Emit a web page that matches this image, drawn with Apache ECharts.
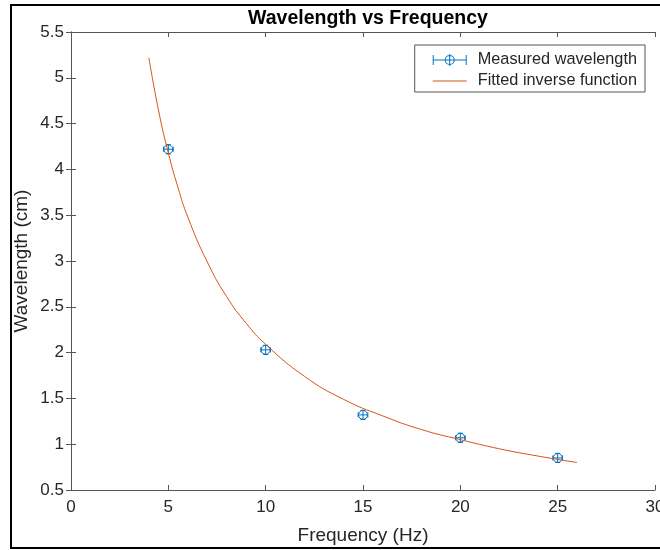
<!DOCTYPE html>
<html>
<head>
<meta charset="utf-8">
<script src="https://cdn.jsdelivr.net/npm/echarts@6/dist/echarts.min.js"></script>
<style>html,body{margin:0;padding:0;background:#fff}#c{width:660px;height:550px}</style>
</head>
<body>
<div id="c"></div>
<script>
// Measured data
var frequency = [5, 10, 15, 20, 25];
var wavelength = [4.22, 2.03, 1.32, 1.07, 0.85];
var freqErr = [0.25, 0.25, 0.25, 0.25, 0.25];
var waveErr = [0.05, 0.05, 0.05, 0.05, 0.05];
// Fitted curve
var fitX = [4, 4.5, 5, 5.5, 6, 7, 8, 9, 10, 12, 14, 16, 18, 20, 22, 24, 26];
var fitY = [5.22, 4.64, 4.18, 3.80, 3.48, 2.99, 2.61, 2.32, 2.09, 1.74, 1.49, 1.31, 1.16, 1.05, 0.95, 0.87, 0.80];
var xTicks = [0, 5, 10, 15, 20, 25, 30];
var yTicks = [0.5, 1, 1.5, 2, 2.5, 3, 3.5, 4, 4.5, 5, 5.5];

var BLUE = '#0072BD', ORANGE = '#D95319', AX = '#555555', TXT = '#262626';
var FONT = 'Liberation Sans, Arial, sans-serif';

var errData = frequency.map(function (f, i) { return [f, wavelength[i], freqErr[i], waveErr[i]]; });
var fitData = fitX.map(function (x, i) { return [x, fitY[i]]; });

function renderErr(params, api) {
  var x = api.value(0), y = api.value(1), xe = api.value(2), ye = api.value(3);
  var c = api.coord([x, y]);
  var l = api.coord([x - xe, y]), r = api.coord([x + xe, y]);
  var t = api.coord([x, y + ye]), b = api.coord([x, y - ye]);
  var st = { stroke: BLUE, lineWidth: 1, fill: null };
  var cap = 2.5;
  return {
    type: 'group',
    children: [
      { type: 'line', shape: { x1: l[0], y1: c[1], x2: r[0], y2: c[1] }, style: st },
      { type: 'line', shape: { x1: c[0], y1: t[1], x2: c[0], y2: b[1] }, style: st },
      { type: 'line', shape: { x1: l[0], y1: c[1] - cap, x2: l[0], y2: c[1] + cap }, style: st },
      { type: 'line', shape: { x1: r[0], y1: c[1] - cap, x2: r[0], y2: c[1] + cap }, style: st },
      { type: 'line', shape: { x1: c[0] - cap, y1: t[1], x2: c[0] + cap, y2: t[1] }, style: st },
      { type: 'line', shape: { x1: c[0] - cap, y1: b[1], x2: c[0] + cap, y2: b[1] }, style: st },
      { type: 'circle', shape: { cx: c[0], cy: c[1], r: 4.5 }, style: { stroke: BLUE, lineWidth: 1, fill: 'rgba(0,0,0,0)' } }
    ]
  };
}

var errIcon = 'path://M0,6.5 L34,6.5 L34,7.5 L0,7.5 Z M0,2 L1,2 L1,12 L0,12 Z M33,2 L34,2 L34,12 L33,12 Z M16.5,1 L17.5,1 L17.5,13 L16.5,13 Z ' +
  'M12,7 A5,5 0 1,1 22,7 A5,5 0 1,1 12,7 Z M13,7 A4,4 0 1,0 21,7 A4,4 0 1,0 13,7 Z';
var lineIcon = 'path://M0,0 L34,0 L34,1 L0,1 Z';

var axisCommon = {
  axisLine: { show: true, lineStyle: { color: AX, width: 1 } },
  axisTick: { show: true, inside: true, length: 5, lineStyle: { color: AX } },
  splitLine: { show: false }
};

var chart = echarts.init(document.getElementById('c'), null, { renderer: 'canvas' });
chart.setOption({
  animation: false,
  backgroundColor: '#fff',
  textStyle: { fontFamily: FONT },
  title: {
    text: 'Wavelength vs Frequency',
    left: 363, top: 4, textAlign: 'center',
    textStyle: { fontFamily: FONT, fontSize: 19.5, fontWeight: 'bold', color: '#000' }
  },
  grid: { left: 71, right: 5, top: 32, bottom: 60, containLabel: false, outerBoundsMode: 'none' },
  legend: {
    orient: 'vertical', right: 15, top: 45,
    backgroundColor: '#fff',
    borderColor: AX, borderWidth: 1, borderRadius: 0,
    padding: [7, 8, 3, 18],
    itemWidth: 34, itemHeight: 12, itemGap: 5,
    textStyle: { fontFamily: FONT, fontSize: 16.3, color: TXT, padding: [0, 0, 0, 6] },
    data: [
      { name: 'Measured wavelength', icon: errIcon, itemStyle: { color: BLUE } },
      { name: 'Fitted inverse function', icon: lineIcon, itemStyle: { color: ORANGE } }
    ]
  },
  xAxis: [
    Object.assign({
      type: 'value', min: 0, max: 30, interval: 5, position: 'bottom',
      name: 'Frequency (Hz)', nameLocation: 'middle', nameGap: 36, nameMoveOverlap: false,
      nameTextStyle: { fontFamily: FONT, fontSize: 19, color: TXT },
      axisLabel: { fontFamily: FONT, fontSize: 17, color: TXT, margin: 9,
        formatter: function (v) { return xTicks.indexOf(v) >= 0 ? String(v) : ''; } }
    }, axisCommon),
    Object.assign({
      type: 'value', min: 0, max: 30, interval: 5, position: 'top',
      axisLabel: { show: false }
    }, axisCommon)
  ],
  yAxis: [
    Object.assign({
      type: 'value', min: 0.5, max: 5.5, interval: 0.5, position: 'left',
      name: 'Wavelength (cm)', nameLocation: 'middle', nameGap: 40, nameMoveOverlap: false,
      nameTextStyle: { fontFamily: FONT, fontSize: 19, color: TXT },
      axisLabel: { fontFamily: FONT, fontSize: 17, color: TXT, margin: 7,
        formatter: function (v) { return yTicks.indexOf(v) >= 0 ? String(v) : ''; } }
    }, axisCommon),
    Object.assign({
      type: 'value', min: 0.5, max: 5.5, interval: 0.5, position: 'right',
      axisLabel: { show: false }
    }, axisCommon)
  ],
  graphic: [
    { type: 'rect', shape: { x: 11, y: 5, width: 680, height: 543 },
      style: { fill: null, stroke: '#000', lineWidth: 2 }, z: 100, silent: true }
  ],
  series: [
    {
      name: 'Measured wavelength', type: 'custom', xAxisIndex: 0, yAxisIndex: 0,
      itemStyle: { color: BLUE },
      renderItem: renderErr, encode: { x: 0, y: 1 }, data: errData, z: 2
    },
    {
      name: 'Fitted inverse function', type: 'line', xAxisIndex: 0, yAxisIndex: 0,
      data: fitData, smooth: true, symbol: 'none', showSymbol: false,
      lineStyle: { color: ORANGE, width: 1 }, itemStyle: { color: ORANGE }, z: 3
    }
  ]
});
</script>
</body>
</html>
